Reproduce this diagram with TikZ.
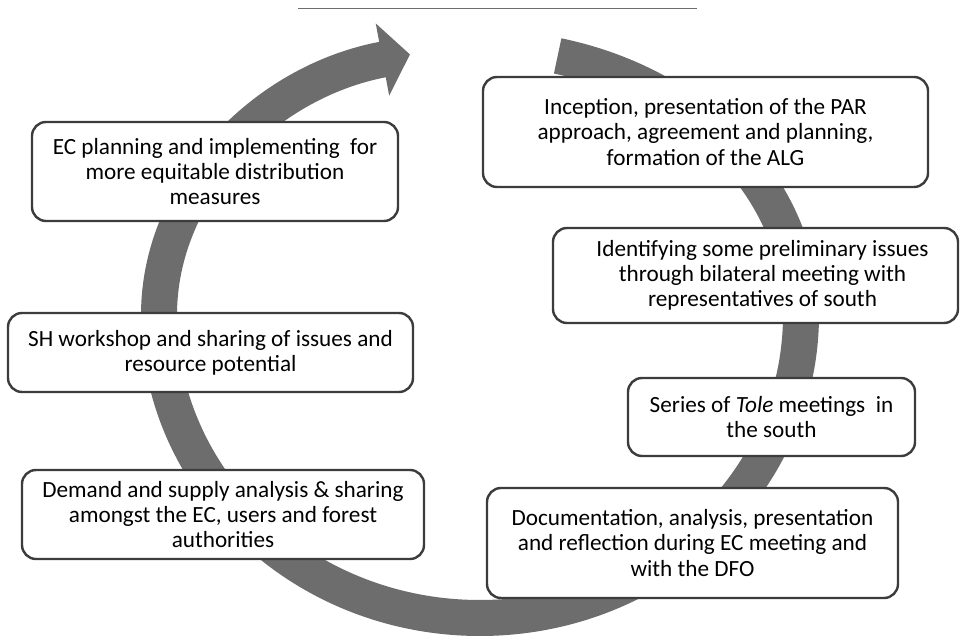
\documentclass[tikz,border=0pt]{standalone}
\usepackage{fontspec}
\setmainfont{Carlito}
\usepackage{tikz}
\usetikzlibrary{arrows.meta}

\definecolor{bandgray}{RGB}{109,109,109}
\definecolor{boxline}{RGB}{60,60,60}

\tikzstyle{stage}=[draw=boxline, line width=2.4pt, fill=white, rounded corners=14pt,
  align=center, inner sep=0pt, font=\fontsize{23.2}{25.3}\selectfont]
\tikzstyle{band}=[draw=bandgray, line width=36pt,
  -{Triangle[width=72pt,length=28pt]}]
\tikzstyle{rule}=[-, draw=bandgray, line width=1.5pt]

\begin{document}
\begin{tikzpicture}[x=1pt, y=1pt]
            \useasboundingbox (0,0) rectangle (963,637);

            % rule above the cycle
            \coordinate (rule l) at (298,628.5);
            \coordinate (rule r) at (697,628.5);
            \draw[rule] (rule l) -- (rule r);

            % the big clockwise arrow round the stages
            \coordinate (hub) at (480,322);
            \draw[band] ([shift={(76:321pt and 267pt)}]hub)
                arc[start angle=76, end angle=0, x radius=321pt, y radius=267pt]
                arc[start angle=0, end angle=-180, x radius=321pt, y radius=303pt]
                arc[start angle=180, end angle=102.6, x radius=321pt, y radius=267pt];

            % right side, top to bottom
            \node[stage, minimum width=445pt, minimum height=110pt] (inception) at (705.5,505)
                {Inception, presentation of the PAR\\approach, agreement and planning,\\formation of the ALG};
            \node[stage, minimum width=405pt, minimum height=95pt] (bilateral) at (755.5,361.5)
                {\hspace{14pt}Identifying some preliminary issues\\\hspace{14pt}through bilateral meeting with\\\hspace{14pt}representatives of south};
            \node[stage, minimum width=287pt, minimum height=78pt] (tole) at (771.5,220)
                {Series of \textit{Tole} meetings~ in\\the south};
            \node[stage, minimum width=411pt, minimum height=110pt] (documentation) at (692.5,94)
                {Documentation, analysis, presentation\\and reflection during EC meeting and\\with the DFO};

            % left side, bottom to top
            \node[stage, minimum width=402pt, minimum height=89pt] (demand) at (223,122.5)
                {Demand and supply analysis \& sharing\\amongst the EC, users and forest\\authorities};
            \node[stage, minimum width=405pt, minimum height=79pt] (workshop) at (210.5,284.5)
                {SH workshop and sharing of issues and\\resource potential};
            \node[stage, minimum width=366pt, minimum height=99pt] (planning) at (215,465.5)
                {EC planning and implementing~ for\\more equitable distribution\\measures};
        \end{tikzpicture}
\end{document}
